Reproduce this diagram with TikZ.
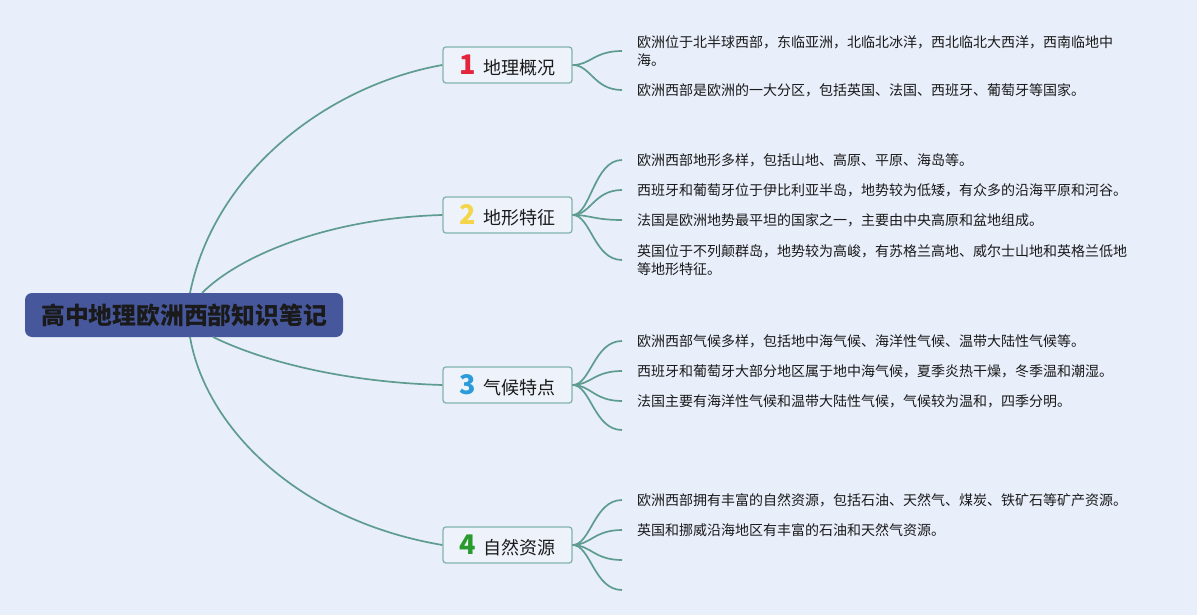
\documentclass[tikz,border=0pt]{standalone}
\usepackage{fontspec}
\setmainfont{Noto Sans CJK SC}
\definecolor{bgc}{HTML}{E8EEFA}
\definecolor{linec}{HTML}{5E9C90}
\definecolor{boxfill}{HTML}{EEF3FB}
\definecolor{boxdraw}{HTML}{82B3AC}
\definecolor{rootfill}{HTML}{46579B}
\definecolor{nA}{HTML}{E3243B}
\definecolor{nB}{HTML}{F4D54A}
\definecolor{nC}{HTML}{2B9BDA}
\definecolor{nD}{HTML}{2A9A2E}
\definecolor{txt}{HTML}{1A1A1A}
\newcommand{\bnum}[2]{{\color{#1}\fontsize{27}{27}\selectfont\bfseries #2}\hspace{7pt}}
\begin{document}
\begin{tikzpicture}[x=1pt,y=-1pt,
  conn/.style={draw=linec,line width=1.7pt},
  rootbox/.style={fill=rootfill,rounded corners=7pt,minimum width=318pt,minimum height=44pt,inner sep=0pt,
    font=\fontsize{23.8}{26}\selectfont\bfseries,text=txt},
  branchbox/.style={fill=boxfill,draw=boxdraw,line width=1.3pt,rounded corners=3pt,minimum width=129pt,minimum height=36pt,inner sep=0pt,
    font=\fontsize{18}{20}\selectfont,text=txt},
  leaf/.style={anchor=west,inner xsep=15pt,inner ysep=0pt,align=left,font=\fontsize{14}{18.5}\selectfont,text=txt},
  leafend/.style={anchor=west,inner sep=0pt,minimum size=0pt}]
\fill[bgc] (0,0) rectangle (1197,615);
\useasboundingbox (0,0) rectangle (1197,615);

% root
\node[rootbox] (root) at (184,315) {高中地理欧洲西部知识笔记};
\coordinate (s1) at (190,293);
\coordinate (s2) at (202,293);
\coordinate (s3) at (213,337);
\coordinate (s4) at (190,337);

% branches
\node[branchbox] (b1) at (507.5,65) {\bnum{nA}{1}地理概况};
\node[branchbox] (b2) at (507.5,215) {\bnum{nB}{2}地形特征};
\node[branchbox] (b3) at (507.5,385) {\bnum{nC}{3}气候特点};
\node[branchbox] (b4) at (507.5,545) {\bnum{nD}{4}自然资源};

\draw[conn] (s1) .. controls (215,170) and (330,85) .. (b1.west);
\draw[conn] (s2) .. controls (240,255) and (330,218) .. (b2.west);
\draw[conn] (s3) .. controls (260,360) and (340,382) .. (b3.west);
\draw[conn] (s4) .. controls (205,425) and (295,520) .. (b4.west);

% leaves of 1
\node[leaf] (l11) at (622,51) {欧洲位于北半球西部，东临亚洲，北临北冰洋，西北临北大西洋，西南临地中\\海。};
\node[leaf] (l12) at (622,90) {欧洲西部是欧洲的一大分区，包括英国、法国、西班牙、葡萄牙等国家。};
% leaves of 2
\node[leaf] (l21) at (622,160) {欧洲西部地形多样，包括山地、高原、平原、海岛等。};
\node[leaf] (l22) at (622,190) {西班牙和葡萄牙位于伊比利亚半岛，地势较为低矮，有众多的沿海平原和河谷。};
\node[leaf] (l23) at (622,220) {法国是欧洲地势最平坦的国家之一，主要由中央高原和盆地组成。};
\node[leaf] (l24) at (622,260) {英国位于不列颠群岛，地势较为高峻，有苏格兰高地、威尔士山地和英格兰低地\\等地形特征。};
% leaves of 3
\node[leaf] (l31) at (622,341) {欧洲西部气候多样，包括地中海气候、海洋性气候、温带大陆性气候等。};
\node[leaf] (l32) at (622,371) {西班牙和葡萄牙大部分地区属于地中海气候，夏季炎热干燥，冬季温和潮湿。};
\node[leaf] (l33) at (622,401) {法国主要有海洋性气候和温带大陆性气候，气候较为温和，四季分明。};
\node[leafend] (l34) at (622,430) {};
% leaves of 4
\node[leaf] (l41) at (622,500) {欧洲西部拥有丰富的自然资源，包括石油、天然气、煤炭、铁矿石等矿产资源。};
\node[leaf] (l42) at (622,530) {英国和挪威沿海地区有丰富的石油和天然气资源。};
\node[leafend] (l43) at (622,560) {};
\node[leafend] (l44) at (622,590) {};

\foreach \b/\l in {b1/l11,b1/l12,b2/l21,b2/l22,b2/l23,b2/l24,b3/l31,b3/l32,b3/l33,b3/l34,b4/l41,b4/l42,b4/l43,b4/l44}
  \draw[conn] (\b.east) .. controls +(18,0) and +(-28,0) .. (\l.west);
\end{tikzpicture}
\end{document}
